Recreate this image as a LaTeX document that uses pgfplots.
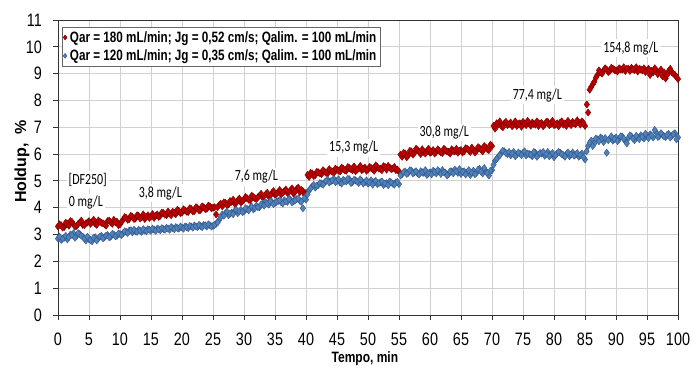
\documentclass[border=0pt]{standalone}
\usepackage{pgfplots}
\pgfplotsset{compat=1.18}
\usepackage{pgfplotstable}
\usepackage{graphicx}
\usepackage{fontspec}
\setmainfont{Liberation Sans}
\newfontfamily\calib{Carlito}
\definecolor{redfill}{RGB}{192,0,0}
\definecolor{reddraw}{RGB}{120,0,0}
\definecolor{bluefill}{RGB}{79,129,189}
\definecolor{bluedraw}{RGB}{50,85,130}

\pgfplotstableread{
x y
0 3.30
0.5 3.35
1 3.28
1.5 3.40
2 3.50
2.5 3.38
3 3.32
3.5 3.45
4 3.36
4.5 3.42
5 3.50
5.5 3.47
6 3.40
6.5 3.52
7 3.44
7.5 3.38
8 3.50
8.5 3.46
9 3.55
9.5 3.48
10 3.38
10.5 3.55
11 3.62
11.5 3.58
12 3.66
12.5 3.60
13 3.70
13.5 3.64
14 3.58
14.5 3.72
15 3.68
15.5 3.62
16 3.75
16.5 3.70
17 3.80
17.5 3.72
18 3.78
18.5 3.85
19 3.76
19.5 3.88
20 3.82
20.5 3.90
21 3.84
21.5 3.95
22 3.88
22.5 3.98
23 3.92
23.5 4.02
24 3.96
24.5 4.05
25 4.00
25.5 3.75
26 4.10
26.5 4.05
27 4.18
27.5 4.12
28 4.22
28.5 4.15
29 4.28
29.5 4.20
30 4.30
30.5 4.35
31 4.28
31.5 4.40
32 4.32
32.5 4.45
33 4.38
33.5 4.50
34 4.42
34.5 4.55
35 4.48
35.5 4.58
36 4.50
36.5 4.62
37 4.55
37.5 4.65
38 4.52
38.5 4.70
39 4.58
39.5 4.62
40 4.55
40.5 5.15
41 5.28
41.5 5.22
42 5.32
42.5 5.25
43 5.35
43.5 5.28
44 5.38
44.5 5.30
45 5.42
45.5 5.35
46 5.45
46.5 5.38
47 5.48
47.5 5.40
48 5.36
48.5 5.46
49 5.40
49.5 5.50
50 5.42
50.5 5.48
51 5.38
51.5 5.52
52 5.45
52.5 5.55
53 5.42
53.5 5.50
54 5.46
54.5 5.40
55 5.35
55.5 5.90
56 6.02
56.5 5.95
57 6.10
57.5 6.05
58 6.15
58.5 6.00
59 6.08
59.5 6.12
60 6.05
60.5 6.15
61 6.08
61.5 6.12
62 6.04
62.5 6.14
63 6.08
63.5 6.18
64 6.10
64.5 6.05
65 6.15
65.5 6.10
66 6.20
66.5 6.08
67 6.16
67.5 6.12
68 6.22
68.5 6.10
69 6.25
69.5 6.15
70 6.30
70.5 6.95
71 7.10
71.5 7.05
72 7.15
72.5 7.08
73 7.18
73.5 7.10
74 7.05
74.5 7.15
75 7.20
75.5 7.08
76 7.14
76.5 7.18
77 7.10
77.5 7.05
78 7.16
78.5 7.10
79 7.20
79.5 7.12
80 7.08
80.5 7.15
81 7.18
81.5 7.10
82 7.05
82.5 7.15
83 7.20
83.5 7.12
84 7.18
84.5 7.22
85 7.05
85.3 7.85
85.5 7.55
86 8.50
86.3 8.62
86.5 8.70
87 8.95
87.5 9.05
88 9.12
88.5 9.15
89 9.10
89.5 9.18
90 9.12
90.5 9.20
91 9.15
91.5 9.10
92 9.18
92.5 9.22
93 9.14
93.5 9.08
94 9.16
94.5 9.20
95 9.12
95.5 8.95
96 9.05
96.5 9.12
97 9.08
97.5 8.90
98 8.82
98.5 9.10
99 9.05
99.5 8.95
100 8.80
}\redtable

\pgfplotstableread{
x y
0 2.85
0.5 2.80
1 2.88
1.5 2.82
2 3.00
2.5 3.05
3 2.95
3.5 3.02
4 2.92
4.5 2.78
5 2.82
5.5 2.75
6 2.90
6.5 2.85
7 2.95
7.5 2.90
8 2.98
8.5 2.92
9 3.00
9.5 2.95
10 3.02
10.5 3.05
11 3.10
11.5 3.15
12 3.08
12.5 3.12
13 3.18
13.5 3.10
14 3.15
14.5 3.20
15 3.14
15.5 3.18
16 3.22
16.5 3.16
17 3.20
17.5 3.25
18 3.18
18.5 3.24
19 3.28
19.5 3.22
20 3.26
20.5 3.30
21 3.24
21.5 3.30
22 3.34
22.5 3.28
23 3.32
23.5 3.36
24 3.30
24.5 3.35
25 3.32
25.5 3.40
26 3.55
26.5 3.75
27 3.80
27.5 3.72
28 3.82
28.5 3.88
29 3.80
29.5 3.92
30 3.86
30.5 3.95
31 4.00
31.5 3.94
32 4.08
32.5 4.02
33 4.15
33.5 4.20
34 4.12
34.5 4.22
35 4.18
35.5 4.25
36 4.20
36.5 4.28
37 4.22
37.5 4.30
38 4.24
38.5 4.32
39 4.26
39.5 3.98
40 4.30
40.5 4.65
41 4.80
41.5 4.75
42 4.85
42.5 4.90
43 4.95
43.5 5.05
44 4.98
44.5 5.08
45 5.00
45.5 4.94
46 5.04
46.5 4.98
47 5.06
47.5 4.96
48 5.02
48.5 4.92
49 5.00
49.5 4.95
50 4.90
50.5 5.02
51 4.96
51.5 4.88
52 4.95
52.5 4.85
53 4.92
53.5 4.98
54 4.90
54.5 4.95
55 4.88
55.5 5.25
56 5.35
56.5 5.30
57 5.38
57.5 5.32
58 5.28
58.5 5.36
59 5.30
59.5 5.22
60 5.32
60.5 5.38
61 5.28
61.5 5.34
62 5.40
62.5 5.30
63 5.25
63.5 5.35
64 5.42
64.5 5.30
65 5.26
65.5 5.36
66 5.32
66.5 5.22
67 5.38
67.5 5.30
68 5.45
68.5 5.28
69 5.35
69.5 5.20
70 5.40
70.5 5.75
71 5.90
71.5 6.05
72 6.10
72.5 6.00
73 5.95
73.5 6.08
74 5.98
74.5 6.02
75 6.05
75.5 5.95
76 6.00
76.5 5.92
77 6.05
77.5 5.98
78 6.02
78.5 5.94
79 6.08
79.5 5.98
80 5.88
80.5 6.02
81 6.05
81.5 5.96
82 6.00
82.5 5.92
83 6.06
83.5 5.98
84 5.90
84.5 6.02
85 5.80
85.5 6.30
86 6.50
86.5 6.40
87 6.55
87.5 6.62
88 6.45
88.5 6.05
89 6.58
89.5 6.50
90 6.62
90.5 6.55
91 6.65
91.5 6.48
92 6.60
92.5 6.66
93 6.52
93.5 6.62
94 6.70
94.5 6.58
95 6.66
95.5 6.74
96 6.62
96.5 6.80
97 6.68
97.5 6.72
98 6.64
98.5 6.75
99 6.68
99.5 6.78
100 6.62
}\bluetable

\begin{document}
\begin{tikzpicture}
\begin{axis}[
  at={(58pt,52pt)}, anchor=south west,
  scale only axis, width=620pt, height=295pt,
  xmin=0, xmax=100, ymin=0, ymax=11,
  xtick={0,5,...,100}, ytick={0,1,...,11},
  grid=major,
  grid style={color=black!18, line width=0.9pt},
  axis line style={color=black!80, line width=0.9pt},
  tick style={color=black!80, line width=0.9pt},
  tick align=outside, major tick length=5pt,
  xtick pos=bottom, ytick pos=left,
  tick label style={font=\fontsize{18}{18}\selectfont},
  xticklabel={\scalebox{0.8}[1]{\pgfmathprintnumber[assume math mode=true]{\tick}}},
  yticklabel={\scalebox{0.8}[1]{\pgfmathprintnumber[assume math mode=true]{\tick}}},
  x tick label style={anchor=north, inner sep=0pt, yshift=-13pt},
  y tick label style={anchor=east, inner sep=0pt, xshift=-11pt},
  xlabel={\scalebox{0.8}[1]{\bfseries Tempo, min}},
  ylabel={\bfseries Holdup,\ \ \%},
  label style={font=\fontsize{15}{15}\selectfont},
  ylabel style={font=\fontsize{16}{16}\selectfont},
  xlabel style={at={(axis description cs:0.495,-0.16)}, anchor=base, inner sep=0pt},
  ylabel style={at={(axis description cs:-0.058,0.52)}, anchor=center, inner sep=0pt, rotate=0},
  legend cell align=left,
  legend image post style={mark size=2.5pt},
  legend style={at={(0.0065,0.976)}, anchor=north west, draw=black!60, fill=white,
    font=\fontsize{15}{17}\selectfont\bfseries, inner xsep=1pt, inner ysep=1pt,
    row sep=0pt, nodes={inner sep=3pt}},
  clip=false,
]
\addplot[only marks, mark=diamond*, mark size=3.6pt, mark options={fill=redfill, draw=reddraw, line width=0.4pt}] table[x=x,y=y] {\redtable};
\addlegendentry{\scalebox{0.78}[1]{Qar = 180 mL/min; Jg = 0,52 cm/s; Qalim. = 100 mL/min}}
\addplot[forget plot, only marks, mark=diamond*, mark size=3.6pt, mark options={fill=redfill, draw=reddraw, line width=0.4pt}] coordinates {
(0.25,3.38) (0.75,3.26) (1.25,3.44) (1.75,3.33) (2.25,3.47) (2.75,3.30) (3.25,3.40) (3.75,3.52) (4.25,3.35) (4.75,3.45)
(5.25,3.40) (5.75,3.55) (6.25,3.36) (6.75,3.48) (7.25,3.42) (7.75,3.33) (8.25,3.52) (8.75,3.40) (9.25,3.46) (9.75,3.35)
(10.25,3.48) (10.75,3.65) (11.25,3.55) (11.75,3.70) (12.25,3.58) (12.75,3.72) (13.25,3.60) (13.75,3.75) (14.25,3.66) (14.75,3.62)
(15.25,3.76) (15.75,3.70) (16.25,3.66) (16.75,3.82) (17.25,3.74) (17.75,3.86) (18.25,3.72) (18.75,3.80) (19.25,3.92) (19.75,3.80)
(20.25,3.94) (20.75,3.85) (21.25,3.98) (21.75,3.86) (22.25,4.02) (22.75,3.90) (23.25,4.05) (23.75,3.95) (24.25,4.08) (24.75,3.98)
(25.25,4.02) (25.75,4.02) (26.25,4.15) (26.75,4.20) (27.25,4.10) (27.75,4.25) (28.25,4.30) (28.75,4.18) (29.25,4.34) (29.75,4.25)
(30.25,4.40) (30.75,4.30) (31.25,4.45) (31.75,4.36) (32.25,4.40) (32.75,4.52) (33.25,4.44) (33.75,4.56) (34.25,4.46) (34.75,4.62)
(35.25,4.52) (35.75,4.66) (36.25,4.56) (36.75,4.68) (37.25,4.58) (37.75,4.72) (38.25,4.60) (38.75,4.75) (39.25,4.66) (39.75,4.50)
(40.25,5.22) (40.75,5.30) (41.25,5.18) (41.75,5.34) (42.25,5.28) (42.75,5.40) (43.25,5.30) (43.75,5.44) (44.25,5.34) (44.75,5.46)
(45.25,5.38) (45.75,5.50) (46.25,5.40) (46.75,5.52) (47.25,5.44) (47.75,5.54) (48.25,5.42) (48.75,5.56) (49.25,5.45) (49.75,5.38)
(50.25,5.52) (50.75,5.44) (51.25,5.58) (51.75,5.46) (52.25,5.40) (52.75,5.52) (53.25,5.56) (53.75,5.44) (54.25,5.52) (54.75,5.42)
(55.25,5.98) (55.75,6.05) (56.25,5.88) (56.75,6.12) (57.25,5.98) (57.75,6.20) (58.25,6.08) (58.75,6.18) (59.25,6.02) (59.75,6.20)
(60.25,6.08) (60.75,6.02) (61.25,6.18) (61.75,6.06) (62.25,6.20) (62.75,6.10) (63.25,6.02) (63.75,6.12) (64.25,6.20) (64.75,6.12)
(65.25,6.06) (65.75,6.22) (66.25,6.14) (66.75,6.24) (67.25,6.06) (67.75,6.26) (68.25,6.16) (68.75,6.30) (69.25,6.18) (69.75,6.35)
(70.25,7.05) (70.75,7.15) (71.25,7.22) (71.75,7.00) (72.25,7.20) (72.75,7.12) (73.25,7.04) (73.75,7.22) (74.25,7.12) (74.75,7.02)
(75.25,7.14) (75.75,7.24) (76.25,7.06) (76.75,7.12) (77.25,7.22) (77.75,7.14) (78.25,7.04) (78.75,7.20) (79.25,7.08) (79.75,7.24)
(80.25,7.10) (80.75,7.04) (81.25,7.22) (81.75,7.14) (82.25,7.24) (82.75,7.08) (83.25,7.14) (83.75,7.26) (84.25,7.10) (84.75,7.16)
(85.75,8.40) (86.75,8.85) (87.25,9.12) (87.75,9.00) (88.25,9.20) (88.75,9.06) (89.25,9.22) (89.75,9.14) (90.25,9.08) (90.75,9.16)
(91.25,9.24) (91.75,9.18) (92.25,9.10) (92.75,9.16) (93.25,9.24) (93.75,9.18) (94.25,9.12) (94.75,9.06) (95.25,9.18) (95.75,9.10)
(96.25,9.20) (96.75,8.98) (97.25,9.15) (97.75,9.05) (98.25,8.95) (98.75,9.18) (99.25,9.00) (99.75,8.88)
};
\addplot[only marks, mark=diamond*, mark size=3.6pt, mark options={fill=bluefill, draw=bluedraw, line width=0.4pt}] table[x=x,y=y] {\bluetable};
\addlegendentry{\scalebox{0.78}[1]{Qar = 120 mL/min; Jg = 0,35 cm/s; Qalim. = 100 mL/min}}
\addplot[forget plot, only marks, mark=diamond*, mark size=3.6pt, mark options={fill=bluefill, draw=bluedraw, line width=0.4pt}] coordinates {
(0.25,2.92) (0.75,2.84) (1.25,2.95) (1.75,2.90) (2.25,2.98) (2.75,2.88) (3.25,3.05) (3.75,2.96) (4.25,2.85) (4.75,2.92)
(5.25,2.80) (5.75,2.88) (6.25,2.78) (6.75,2.92) (7.25,2.86) (7.75,2.96) (8.25,2.90) (8.75,3.02) (9.25,2.94) (9.75,3.04)
(10.25,2.98) (10.75,3.12) (11.25,3.06) (11.75,3.16) (12.25,3.18) (12.75,3.10) (13.25,3.14) (13.75,3.20) (14.25,3.12) (14.75,3.18)
(15.25,3.22) (15.75,3.14) (16.25,3.20) (16.75,3.24) (17.25,3.18) (17.75,3.22) (18.25,3.28) (18.75,3.20) (19.25,3.24) (19.75,3.30)
(20.25,3.22) (20.75,3.28) (21.25,3.32) (21.75,3.26) (22.25,3.30) (22.75,3.36) (23.25,3.28) (23.75,3.34) (24.25,3.38) (24.75,3.30)
(25.25,3.36) (25.75,3.45) (26.25,3.65) (26.75,3.70) (27.25,3.85) (27.75,3.78) (28.25,3.76) (28.75,3.92) (29.25,3.86) (29.75,3.84)
(30.25,3.98) (30.75,3.90) (31.25,4.04) (31.75,3.98) (32.25,4.02) (32.75,4.12) (33.25,4.08) (33.75,4.16) (34.25,4.24) (34.75,4.14)
(35.25,4.22) (35.75,4.28) (36.25,4.16) (36.75,4.24) (37.25,4.32) (37.75,4.20) (38.25,4.28) (38.75,4.34) (39.25,4.22) (39.75,4.36)
(40.25,4.50) (40.75,4.72) (41.25,4.85) (41.75,4.82) (42.25,4.92) (42.75,4.86) (43.25,5.00) (43.75,4.94) (44.25,5.02) (44.75,4.95)
(45.25,5.06) (45.75,4.90) (46.25,5.00) (46.75,5.08) (47.25,4.92) (47.75,5.04) (48.25,4.98) (48.75,5.06) (49.25,4.90) (49.75,5.02)
(50.25,4.94) (50.75,4.86) (51.25,5.00) (51.75,4.92) (52.25,4.98) (52.75,4.90) (53.25,4.84) (53.75,4.94) (54.25,4.86) (54.75,4.96)
(55.25,5.20) (55.75,5.32) (56.25,5.26) (56.75,5.40) (57.25,5.28) (57.75,5.36) (58.25,5.24) (58.75,5.32) (59.25,5.40) (59.75,5.28)
(60.25,5.24) (60.75,5.34) (61.25,5.40) (61.75,5.26) (62.25,5.32) (62.75,5.20) (63.25,5.36) (63.75,5.28) (64.25,5.36) (64.75,5.44)
(65.25,5.34) (65.75,5.24) (66.25,5.40) (66.75,5.30) (67.25,5.25) (67.75,5.42) (68.25,5.34) (68.75,5.48) (69.25,5.30) (69.75,5.38)
(70.25,5.60) (70.75,5.82) (71.25,5.95) (71.75,6.12) (72.25,6.04) (72.75,6.08) (73.25,6.02) (73.75,5.92) (74.25,6.06) (74.75,5.96)
(75.25,6.10) (75.75,6.02) (76.25,5.98) (76.75,6.08) (77.25,5.90) (77.75,6.04) (78.25,6.08) (78.75,6.00) (79.25,5.92) (79.75,6.04)
(80.25,5.96) (80.75,6.08) (81.25,6.00) (81.75,5.90) (82.25,6.06) (82.75,5.98) (83.25,5.94) (83.75,6.04) (84.25,5.96) (84.75,5.88)
(85.25,6.10) (85.75,6.42) (86.25,6.30) (86.75,6.58) (87.25,6.48) (87.75,6.58) (88.25,6.60) (88.75,6.52) (89.25,6.66) (89.75,6.56)
(90.25,6.48) (90.75,6.66) (91.25,6.58) (91.75,6.40) (92.25,6.70) (92.75,6.58) (93.25,6.68) (93.75,6.56) (94.25,6.64) (94.75,6.76)
(95.25,6.60) (95.75,6.70) (96.25,6.90) (96.75,6.64) (97.25,6.78) (97.75,6.66) (98.25,6.72) (98.75,6.62) (99.25,6.74) (99.75,6.55)
};

\begin{scope}[every node/.style={fill=white, inner sep=2pt, font=\calib\fontsize{15.5}{16}\selectfont}]
\node at (axis cs:4.8,5.04) {\scalebox{0.77}[1]{[DF250]}};
\node at (axis cs:4.5,4.2) {\scalebox{0.77}[1]{0 mg/L}};
\node at (axis cs:16.5,4.55) {\scalebox{0.77}[1]{3,8 mg/L}};
\node at (axis cs:32,5.15) {\scalebox{0.77}[1]{7,6 mg/L}};
\node at (axis cs:47.7,6.23) {\scalebox{0.77}[1]{15,3 mg/L}};
\node at (axis cs:62.3,6.8) {\scalebox{0.77}[1]{30,8 mg/L}};
\node at (axis cs:77.3,8.2) {\scalebox{0.77}[1]{77,4 mg/L}};
\node at (axis cs:92.4,9.95) {\scalebox{0.77}[1]{154,8 mg/L}};
\end{scope}
\end{axis}
\pgfresetboundingbox
\useasboundingbox (0,0) rectangle (699pt,367pt);
\end{tikzpicture}
\end{document}
